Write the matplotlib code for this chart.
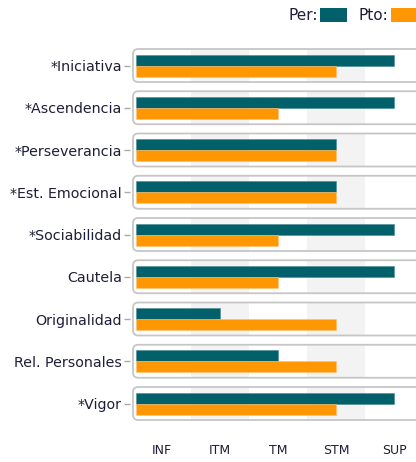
import matplotlib.pyplot as plt
from matplotlib.patches import FancyBboxPatch, Rectangle

# data (1=INF ... 5=SUP)
categories = ['*Iniciativa', '*Ascendencia', '*Perseverancia', '*Est. Emocional',
              '*Sociabilidad', 'Cautela', 'Originalidad', 'Rel. Personales', '*Vigor']
per = [5, 5, 4, 4, 5, 5, 2, 3, 5]
pto = [4, 3, 4, 4, 3, 3, 4, 4, 4]
levels = ['INF', 'ITM', 'TM', 'STM', 'SUP']

teal = '#02606b'
orange = '#ff9702'
text_col = '#1e1e38'

W, H = 416, 462
fig = plt.figure(figsize=(W / 100, H / 100), dpi=100)

# axes placed in pixel terms
px_left, px_right, px_top, px_bot = 130, 416, 40, 440
ax = fig.add_axes([px_left / W, 1 - px_bot / H, (px_right - px_left) / W, (px_bot - px_top) / H])

xpx = 58.0      # pixels per level
ypx = 42.25     # pixels per row
row0 = 65.5     # pixel y of first row
x_lo = 5 - (394 - px_left) / xpx
x_hi = 5 + (px_right - 394) / xpx
y_lo = -(row0 - px_top) / ypx
y_hi = len(categories) - 1 + (px_bot - (row0 + ypx * (len(categories) - 1))) / ypx
ax.set_xlim(x_lo, x_hi)
ax.set_ylim(y_hi, y_lo)

bar_h = 11 / ypx
box_h = 33 / ypx
start = 0.55
box_x0 = 5 - (394 - 133) / xpx

for i in range(len(categories)):
    # grey bands inside the row box
    for b in (2, 4):
        ax.add_patch(Rectangle((b - 0.5, i - box_h / 2), 1, box_h,
                               facecolor='#f3f3f3', edgecolor='none', zorder=0))
    box = FancyBboxPatch((box_x0, i - box_h / 2), 6, box_h,
                         boxstyle='round,pad=0,rounding_size=0.09',
                         mutation_aspect=xpx / ypx,
                         facecolor='none', edgecolor='#c6c6c6', linewidth=1.3, zorder=3)
    ax.add_patch(box)

ys = list(range(len(categories)))
ax.barh([y - bar_h / 2 for y in ys], [v - start for v in per], left=start,
        height=bar_h, color=teal, edgecolor='#4a8a92', linewidth=0.4, zorder=2)
ax.barh([y + bar_h / 2 for y in ys], [v - start for v in pto], left=start,
        height=bar_h, color=orange, edgecolor='#ffc070', linewidth=0.4, zorder=2)

ax.set_yticks(ys)
ax.set_yticklabels(categories, fontsize=10.3, color=text_col)
ax.tick_params(axis='y', length=4.5, width=1, color='#aaaaaa', pad=1.5)
ax.set_xticks(range(1, 6))
ax.set_xticklabels(levels, fontsize=9, color=text_col)
ax.tick_params(axis='x', length=0, pad=3)
for s in ax.spines.values():
    s.set_visible(False)

# legend at the top right
fig.text(318 / W, 1 - 16 / H, 'Per:', ha='right', va='center', fontsize=11, color=text_col)
fig.add_artist(Rectangle((320 / W, 1 - 22 / H), 27 / W, 14 / H, transform=fig.transFigure,
                         facecolor=teal, edgecolor='none'))
fig.text(388 / W, 1 - 16 / H, 'Pto:', ha='right', va='center', fontsize=11, color=text_col)
fig.add_artist(Rectangle((391 / W, 1 - 22 / H), 30 / W, 14 / H, transform=fig.transFigure,
                         facecolor=orange, edgecolor='none'))

fig.savefig('out.png', dpi=100)
